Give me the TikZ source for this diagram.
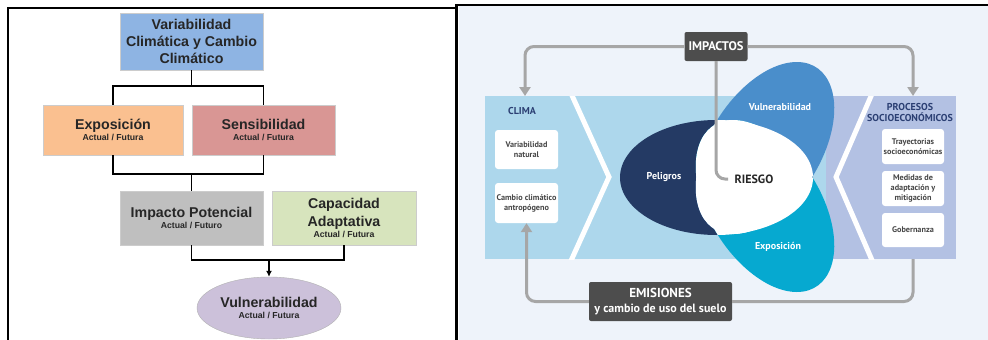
\documentclass[tikz,border=0pt]{standalone}
\usepackage{fontspec}
\setmainfont{Liberation Sans}
\newfontfamily\ptsans{PT Sans}
\usetikzlibrary{arrows.meta,shapes.geometric}

\definecolor{txtgris}{HTML}{262626}
\definecolor{azulvcc}{HTML}{8EB4E3}
\definecolor{naranja}{HTML}{FAC090}
\definecolor{rosa}{HTML}{D99694}
\definecolor{grisimp}{HTML}{BFBFBF}
\definecolor{verdecap}{HTML}{D7E4BD}
\definecolor{lila}{HTML}{CCC1DA}
\definecolor{fondo}{HTML}{EEF3FA}
\definecolor{celeste}{HTML}{ADD7EC}
\definecolor{lavanda}{HTML}{B3C1E3}
\definecolor{marino}{HTML}{243A64}
\definecolor{azulvul}{HTML}{4A8ECB}
\definecolor{cian}{HTML}{06A9D0}
\definecolor{oscuro}{HTML}{4D4D4D}
\definecolor{titazul}{HTML}{2B3F73}
\definecolor{lineagris}{HTML}{A6A6A6}

\newcommand{\subtxt}[1]{{\fontsize{8.7}{9}\selectfont #1}}

\tikzset{
  caja/.style = {draw=black!20, fill=#1, align=center, text=txtgris,
                 font=\bfseries\fontsize{14.2}{17.3}\selectfont, inner sep=2pt},
  blanca/.style = {fill=white, rounded corners=3pt, align=center, text=black!72,
                   minimum width=63pt, inner sep=1pt,
                   font=\ptsans\bfseries\fontsize{8.2}{10}\selectfont},
  gris/.style = {fill=oscuro, rounded corners=2pt, align=center, text=white,
                 font=\ptsans\bfseries\fontsize{13}{15.3}\selectfont},
  lobulo/.style = {text=white, font=\ptsans\bfseries\fontsize{10}{12}\selectfont},
  titulo/.style = {text=titazul, align=center,
                   font=\ptsans\bfseries\fontsize{10}{11}\selectfont},
  bucle/.style = {draw=lineagris, line width=3pt, rounded corners=9pt},
  flecha/.style = {-{Triangle[width=11pt,length=9pt]}}
}

% lobulos del diagrama de riesgo
\def\peligros{(716.5,177.5) ellipse [x radius=96.5pt, y radius=57.5pt]}
\def\vulne{[shift={(765,148)}, xslant=0.37] (0,0) ellipse [x radius=61.5pt, y radius=86pt]}
\def\expos{[shift={(765,206)}, xslant=-0.37] (0,0) ellipse [x radius=61.5pt, y radius=86pt]}

\begin{document}
\begin{tikzpicture}[x=1pt, y=-1pt]
	\useasboundingbox (0,0) rectangle (988,340);
	\fill[white] (0,0) rectangle (988,340);

	% Marcos
	\fill[fondo] (459,6) rectangle (988,340);
	\draw[line width=2pt] (7.7,340) -- (7.7,7.7) -- (456,7.7);
	\draw[line width=3pt] (456.5,4) -- (456.5,340);
	\draw[line width=1.8pt] (455,4.8) -- (988,4.8);

	%%%%% Izquierda
	\node[caja=azulvcc, minimum width=143pt, minimum height=57pt] (vcc) at (191.5,41.5)
		{Variabilidad\\Climática y Cambio\\Climático};
	\node[caja=naranja, minimum width=140pt, minimum height=50pt] (expo) at (113,130)
		{Exposición\\[-6pt]\subtxt{Actual / Futura}};
	\node[caja=rosa, minimum width=143pt, minimum height=50pt] (sens) at (263.5,130)
		{Sensibilidad\\[-6pt]\subtxt{Actual / Futura}};
	\node[caja=grisimp, minimum width=143pt, minimum height=54pt] (impot) at (191.5,218)
		{Impacto Potencial\\[-6pt]\subtxt{Actual / Futuro}};
	\node[caja=verdecap, minimum width=144pt, minimum height=54pt] (capad) at (344,218)
		{Capacidad\\Adaptativa\\[-6pt]\subtxt{Actual / Futura}};
	\node[caja=lila, ellipse, draw=black!30, minimum width=144pt, minimum height=62pt] (vulne) at (269,308)
		{Vulnerabilidad\\[-6pt]\subtxt{Actual / Futura}};

	\coordinate (j1) at (191.5,86);
	\coordinate (j2) at (191.5,174);
	\coordinate (j3) at (269,260);

	% Conectores
	\draw[line width=1.2pt] (vcc.south) -- (j1);
	\draw[line width=1.2pt] (expo.north) |- (j1) -| (sens.north);
	\draw[line width=1.2pt] (expo.south) |- (j2) -| (sens.south);
	\draw[line width=1.2pt] (j2) -- (impot.north);
	\draw[line width=1.2pt] (impot.south) |- (j3) -| (capad.south);
	\draw[line width=1.2pt, -{Latex[length=6pt,width=6pt]}] (j3) -- (vulne.north);

	%%%%% Derecha
	% Paneles
	\fill[celeste] (485,96) rectangle (826,259);
	\fill[lavanda] (826,96) rectangle (956,259);
	\begin{scope}
		\clip (485,96) rectangle (956,259);
		\draw[white, line width=5pt] (565,80) -- (609,177) -- (565,274);
		\draw[white, line width=5pt] (878,80) -- (836,177) -- (878,274);
	\end{scope}

	% Lobulos
	\fill[marino] \peligros;
	\fill[azulvul] \vulne;
	\fill[cian] \expos;
	\begin{scope}
		\clip \peligros;
		\fill[white] \vulne;
		\fill[white] \expos;
	\end{scope}
	\begin{scope}
		\clip \vulne;
		\fill[white] \expos;
	\end{scope}

	\node[lobulo] (pel) at (664,177) {Peligros};
	\node[lobulo] (vul) at (780,107) {Vulnerabilidad};
	\node[lobulo] (exp) at (778,247) {Exposición};
	\node[font=\ptsans\bfseries\fontsize{12}{14}\selectfont, text=black!85] (riesgo) at (754,179) {RIESGO};

	% Clima
	\node[titulo] (clima) at (522,111) {CLIMA};
	\node[blanca, minimum height=39pt] (varnat) at (526.5,149.5) {Variabilidad\\natural};
	\node[blanca, minimum height=40pt] (cambio) at (526.5,203) {Cambio climático\\antropógeno};

	% Procesos
	\node[titulo] (proc) at (910,112.5) {PROCESOS\\SOCIOECONÓMICOS};
	\node[blanca, minimum width=62pt, minimum height=35pt] (tray) at (913,146.5) {Trayectorias\\socioeconómicas};
	\node[blanca, minimum width=62pt, minimum height=35pt] (medid) at (913,188.5) {Medidas de\\adaptación y\\mitigación};
	\node[blanca, minimum width=62pt, minimum height=34pt] (gober) at (913,230) {Gobernanza};

	% Cajas oscuras
	\node[gris, minimum width=63pt, minimum height=29pt, font=\ptsans\bfseries\fontsize{12.5}{15}\selectfont] (impac) at (716,46.5) {IMPACTOS};
	\node[gris, minimum width=143pt, minimum height=39pt] (emis) at (660.5,301.5)
		{EMISIONES\\{\fontsize{12}{15.3}\selectfont y cambio de uso del suelo}};

	\coordinate (climaarr) at (525,96);
	\coordinate (procarr) at (913,96);
	\coordinate (procab) at (913,259);

	% Bucles
	\draw[bucle, flecha] (impac.west) -| (climaarr);
	\draw[bucle, flecha] (impac.east) -| (procarr);
	\draw[bucle, flecha] (emis.west) -| (cambio.south);
	\draw[bucle] (emis.east) -| (procab);
	\draw[bucle, shorten >=3pt] (impac.south) |- (riesgo.west);
\end{tikzpicture}
\end{document}
